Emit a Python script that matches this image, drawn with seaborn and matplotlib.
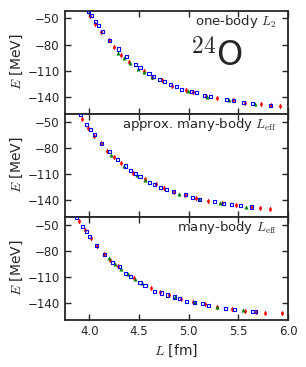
import matplotlib
matplotlib.use("Agg")
import matplotlib.pyplot as plt
import seaborn as sns
import pandas as pd

# ---- data (L in fm, E in MeV) ----
# panel 1: one-body L2
p1_blue_L = [3.99, 4.02, 4.06, 4.09, 4.13, 4.20, 4.29, 4.37, 4.46, 4.51, 4.60, 4.65, 4.71, 4.76, 4.82, 4.88,
             4.93, 5.03, 5.08, 5.16, 5.22, 5.38, 5.45, 5.55, 5.64, 5.82]
p1_blue_E = [-41.5, -46.9, -53.0, -58.5, -64.7, -75.0, -85.0, -94.0, -102.5, -106.4, -113.0, -116.8, -119.9, -122.2, -126.0, -128.4,
             -131.0, -133.4, -135.0, -138.0, -139.6, -142.7, -143.5, -145.8, -147.3, -149.7]
p1_red_L = [4.01, 4.06, 4.12, 4.20, 4.25, 4.32, 4.40, 4.55, 4.63, 4.73, 4.83, 4.97, 5.04, 5.17, 5.29, 5.45, 5.57, 5.73, 5.83, 5.92]
p1_red_E = [-47.0, -56.6, -66.0, -75.0, -83.0, -91.3, -99.4, -110.0, -117.2, -121.0, -127.0, -131.5, -134.0, -139.0, -141.5,
            -143.8, -146.5, -148.5, -149.3, -150.8]
p1_green_L = [4.29, 4.35, 4.41, 4.49, 4.55, 4.63, 4.99, 5.18, 5.41, 5.67]
p1_green_E = [-89.0, -95.5, -101.0, -107.6, -111.8, -116.8, -132.6, -139.6, -143.8, -147.7]

# panel 2: approx. many-body Leff
p2_blue_L = [3.91, 3.97, 4.01, 4.05, 4.12, 4.20, 4.28, 4.36, 4.41, 4.46, 4.51, 4.61, 4.66, 4.72, 4.78, 4.85,
             4.97, 5.04, 5.11, 5.26, 5.35, 5.43, 5.52, 5.63]
p2_blue_E = [-42.0, -53.5, -59.0, -65.0, -75.0, -84.8, -94.0, -101.0, -106.3, -109.8, -113.2, -119.4, -122.4, -125.5, -128.2, -130.5,
             -133.9, -137.0, -139.3, -141.6, -143.9, -145.4, -146.6, -148.0]
p2_red_L = [3.93, 3.99, 4.05, 4.12, 4.18, 4.25, 4.32, 4.44, 4.56, 4.67, 4.75, 4.85, 4.96, 5.07, 5.19, 5.34, 5.48, 5.64, 5.72, 5.82]
p2_red_E = [-47.7, -57.0, -66.4, -75.0, -83.3, -90.2, -98.0, -109.4, -115.9, -121.6, -126.2, -130.4, -134.7, -138.2, -140.8,
            -143.9, -146.2, -148.5, -148.9, -150.0]
p2_green_L = [4.22, 4.35, 4.48, 4.56, 4.90, 5.10, 5.32, 5.58]
p2_green_E = [-88.3, -100.6, -111.0, -116.7, -133.1, -138.9, -143.5, -147.6]

# panel 3: many-body Leff
p3_blue_L = [3.87, 3.93, 3.97, 4.00, 4.07, 4.15, 4.23, 4.30, 4.36, 4.41, 4.51, 4.56, 4.66, 4.73, 4.79, 4.86,
             4.91, 4.98, 5.06, 5.14, 5.20, 5.37, 5.46, 5.64, 5.67]
p3_blue_E = [-41.5, -52.7, -58.5, -64.0, -74.5, -84.6, -93.5, -98.1, -106.0, -109.8, -116.8, -120.0, -126.6, -128.5, -130.8, -133.0,
             -135.0, -137.8, -139.8, -141.0, -142.9, -146.0, -147.6, -149.5, -149.9]
p3_red_L = [3.90, 3.96, 4.02, 4.08, 4.15, 4.21, 4.29, 4.45, 4.62, 4.71, 4.80, 4.92, 5.04, 5.16, 5.29, 5.44, 5.57, 5.68, 5.77, 5.94]
p3_red_E = [-46.5, -56.6, -66.0, -74.8, -83.4, -90.4, -97.8, -111.0, -122.3, -127.3, -130.4, -135.4, -138.6, -141.3, -144.0,
            -147.1, -149.4, -150.2, -151.0, -151.7]
p3_green_L = [4.20, 4.26, 4.32, 4.39, 4.46, 4.53, 4.86, 5.06, 5.29, 5.55]
p3_green_E = [-88.5, -95.1, -101.3, -106.7, -112.6, -116.8, -133.0, -139.0, -144.0, -148.0]

red_err = 1.8  # approx. half-height of the red error bars

panels = [
    (p1_blue_L, p1_blue_E, p1_red_L, p1_red_E, p1_green_L, p1_green_E, r"one-body $L_2$"),
    (p2_blue_L, p2_blue_E, p2_red_L, p2_red_E, p2_green_L, p2_green_E, r"approx. many-body $L_{\rm eff}$"),
    (p3_blue_L, p3_blue_E, p3_red_L, p3_red_E, p3_green_L, p3_green_E, r"many-body $L_{\rm eff}$"),
]

sns.set_style("ticks")
plt.rcParams['font.family'] = ['DejaVu Sans']
plt.rcParams['mathtext.fontset'] = 'cm'
plt.rcParams['xtick.direction'] = 'in'
plt.rcParams['ytick.direction'] = 'in'
plt.rcParams['xtick.top'] = True
plt.rcParams['ytick.right'] = True
plt.rcParams['axes.linewidth'] = 1.3

fig, axes = plt.subplots(3, 1, figsize=(3.06, 3.67), dpi=100, sharex=True)
fig.subplots_adjust(left=0.211, right=0.941, top=0.971, bottom=0.129, hspace=0)

for ax, (bL, bE, rL, rE, gL, gE, label) in zip(axes, panels):
    ax.errorbar(rL, rE, yerr=red_err, fmt='none', ecolor='red', elinewidth=0.7, capsize=0, zorder=2)
    sns.scatterplot(x=rL, y=rE, ax=ax, marker='d', color='red', edgecolor='red', s=6, linewidth=0.3, zorder=3)
    sns.scatterplot(x=gL, y=gE, ax=ax, marker='^', color='green', edgecolor='green', s=6, linewidth=0.3, zorder=3)
    sns.scatterplot(x=bL, y=bE, ax=ax, marker='s', facecolor='none', edgecolor='blue', s=5, linewidth=0.8, zorder=4)
    ax.set_xlim(3.75, 6.0)
    ax.set_ylim(-159, -41)
    ax.set_yticks([-50, -80, -110, -140])
    ax.set_xticks([4.0, 4.5, 5.0, 5.5, 6.0])
    ax.tick_params(labelsize=8.5, length=4, width=1)
    ax.set_ylabel(r"$E$ [MeV]", fontsize=10, labelpad=2)
    ax.text(0.95, 0.89, label, transform=ax.transAxes, ha='right', va='center', fontsize=9.5)

axes[0].text(0.80, 0.56, r"$^{24}$O", transform=axes[0].transAxes, ha='right', va='center', fontsize=24)
axes[2].set_xlabel(r"$L$ [fm]", fontsize=10)
axes[2].set_xticklabels(["4.0", "4.5", "5.0", "5.5", "6.0"])
fig.align_ylabels(axes)

fig.savefig("out.png", dpi=100)
